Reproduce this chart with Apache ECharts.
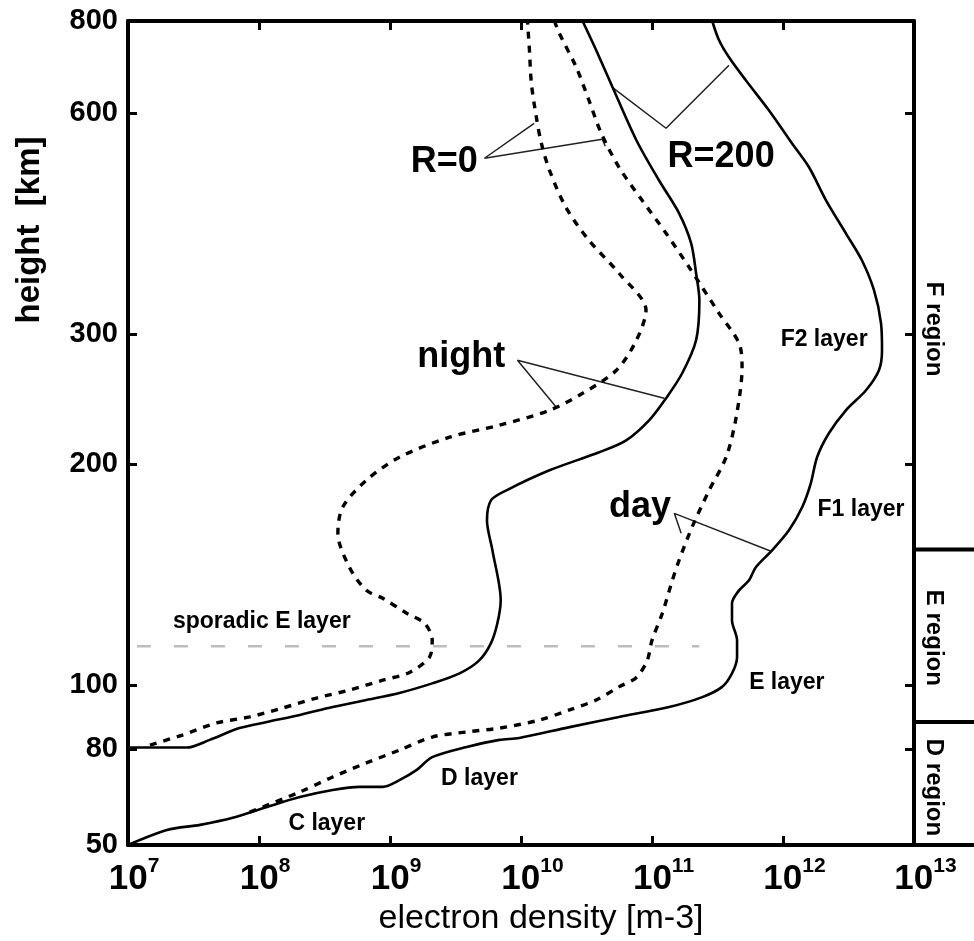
<!DOCTYPE html>
<html>
<head>
<meta charset="utf-8">
<script src="https://cdn.jsdelivr.net/npm/echarts@6/dist/echarts.min.js"></script>
<style>
  html, body { margin: 0; padding: 0; background: #fff; }
  #chart { width: 974px; height: 941px; }
</style>
</head>
<body>
<div id="chart"></div>
<script>
// Ionospheric electron density profiles: [electron density (m^-3), height (km)]
const nightR0 = [
  [1.47e7, 81.3], [2.6e7, 84.4], [4.75e7, 88.2], [8.5e7, 90.1], [1.52e8, 92.9], [2.75e8, 96.0],
  [4.9e8, 98.5], [8.8e8, 101.6], [1.41e9, 104.1], [2.0e9, 109.2], [2.1e9, 115.1], [1.84e9, 121.4],
  [1.34e9, 125.3], [8.8e8, 131.3], [6.6e8, 134.6], [4.9e8, 144.7], [4.0e8, 160.9], [4.35e8, 174.6],
  [6.6e8, 190.0], [1.18e9, 204.2], [2.85e9, 217.4], [6.85e9, 225.7], [1.65e10, 236.5], [2.95e10, 249.4],
  [5.35e10, 268.1], [7.6e10, 294.5], [9.0e10, 323.5], [5.6e10, 363.2], [3.3e10, 402.7], [2.2e10, 446.5],
  [1.65e10, 501.4], [1.43e10, 545.6], [1.31e10, 591.8], [1.2e10, 658.4], [1.16e10, 730.0], [1.12e10, 800.0]
];
const nightR200 = [
  [1.0e7, 80.5], [2.8e7, 80.5], [4.2e7, 82.9], [7.1e7, 86.6], [1.15e8, 88.5], [2.05e8, 90.7],
  [3.65e8, 93.2], [6.6e8, 95.4], [1.18e9, 97.6], [2.1e9, 100.6], [3.4e9, 103.8], [4.8e9, 108.1],
  [5.9e9, 114.1], [6.6e9, 121.4], [7.0e9, 130.5], [6.05e9, 152.6], [5.5e9, 167.5], [5.9e9, 178.4],
  [7.75e9, 184.1], [1.65e10, 196.0], [3.95e10, 207.4], [6.35e10, 215.3], [9.5e10, 229.2], [1.28e11, 245.6],
  [1.7e11, 265.6], [2.17e11, 294.5], [2.3e11, 333.7], [2.17e11, 363.2], [1.99e11, 398.9], [1.61e11, 438.2],
  [1.13e11, 485.9], [7.6e10, 550.8], [5.0e10, 650.0], [3.75e10, 730.0], [2.95e10, 800.0]
];
const dayR0 = [
  [8.5e7, 60.3], [2.05e8, 66.6], [3.65e8, 71.3], [6.6e8, 75.7], [1.18e9, 79.7], [2.1e9, 83.8],
  [3.85e9, 85.4], [6.85e9, 86.6], [1.38e10, 89.1], [2.35e10, 92.3], [3.75e10, 95.4], [5.6e10, 99.5],
  [7.6e10, 102.5], [9.2e10, 108.1], [1.0e11, 115.1], [1.2e11, 125.3], [1.43e11, 138.9], [1.61e11, 147.9],
  [2.02e11, 164.0], [2.73e11, 184.1], [3.68e11, 204.2], [4.39e11, 231.4], [4.87e11, 270.6], [4.62e11, 291.7],
  [3.25e11, 320.4], [1.92e11, 370.1], [1.28e11, 411.6], [8.4e10, 456.4], [5.6e10, 506.1], [4.1e10, 562.9],
  [3.3e10, 624.2], [2.64e10, 692.2], [1.96e10, 769.9], [1.8e10, 800.0]
];
const dayR200 = [
  [1.0e7, 50.0], [1.98e7, 54.7], [3.55e7, 56.3], [6.3e7, 58.5], [1.15e8, 61.9], [2.05e8, 65.0],
  [3.65e8, 67.2], [5.85e8, 68.2], [8.8e8, 68.2], [1.18e9, 70.3], [1.6e9, 73.5], [2.1e9, 77.5],
  [3.85e9, 80.7], [6.85e9, 82.9], [9.7e9, 83.5], [2.35e10, 86.9], [5.6e10, 90.1], [1.35e11, 93.2],
  [2.42e11, 96.3], [3.43e11, 99.5], [4.08e11, 103.8], [4.46e11, 109.2], [4.46e11, 115.1], [4.08e11, 122.6],
  [4.08e11, 129.3], [4.62e11, 134.6], [5.5e11, 138.9], [6.2e11, 144.7], [8.25e11, 152.6], [1.11e12, 162.5],
  [1.4e12, 174.6], [1.63e12, 188.2], [1.82e12, 204.2], [2.24e12, 220.1], [3.02e12, 236.5], [4.3e12, 251.8],
  [5.4e12, 268.1], [5.7e12, 285.4], [5.6e12, 310.6], [4.95e12, 344.4], [4.0e12, 378.3], [3.02e12, 411.6],
  [2.13e12, 456.4], [1.58e12, 506.1], [1.17e12, 545.6], [7.8e11, 605.0], [5.2e11, 664.6], [3.87e11, 714.2],
  [3.25e11, 753.2], [2.88e11, 800.0]
];

// Axis extents and tick values
const DENSITY_RANGE = [1e7, 1e13];
const HEIGHT_RANGE = [50, 800];
const HEIGHT_TICKS = [50, 80, 100, 200, 300, 600, 800];

// Sporadic E reference height and its horizontal extent
const SPORADIC_E_HEIGHT = 113;
const SPORADIC_E_SPAN = [1.17e7, 2.3e11];

// Region boundaries (km) and region names
const REGION_BOUNDARIES = [88.5, 153];
const REGION_NAMES = ['D region', 'E region', 'F region'];
const REGION_LABEL_HEIGHTS = [68, 116, 305];

// Curve annotations: text with its anchor [density, height]
const CURVE_LABELS = [
  { text: 'R=0',   at: [2.6e9, 514] },
  { text: 'R=200', at: [3.37e11, 522] },
  { text: 'night', at: [3.5e9, 279] },
  { text: 'day',   at: [8.1e10, 174.6] }
];
const LAYER_LABELS = [
  { text: 'sporadic E layer', at: [1.05e8, 122.2] },
  { text: 'C layer',  at: [3.29e8, 56.6] },
  { text: 'D layer',  at: [4.82e9, 70.7] },
  { text: 'E layer',  at: [1.07e12, 100.9] },
  { text: 'F1 layer', at: [3.94e12, 173.5] },
  { text: 'F2 layer', at: [2.06e12, 295.4] }
];
// Leader lines joining the annotations to the curves
const LEADERS = [
  [[1.26e10, 580.8], [5.26e9, 520.6], [4.17e10, 552.5], [4.4e10, 540.5]],
  [[4.98e10, 650.0], [1.28e11, 571.8], [3.87e11, 696.5]],
  [[1.86e10, 238.8], [9.4e9, 276.6], [1.24e11, 245.6]],
  [[1.67e11, 160.9], [1.48e11, 171.3], [8.1e11, 152.1]]
];

// Height axis: linear up to 100 km, logarithmic above
const LIN_TOP = 100, LOG_K = 100;
const toT = h => h <= LIN_TOP ? h : LIN_TOP + LOG_K * Math.log(h / LIN_TOP);
const fromT = t => t <= LIN_TOP ? t : LIN_TOP * Math.exp((t - LIN_TOP) / LOG_K);
const toPoint = d => [d[0], toT(d[1])];

const FONT = '"Liberation Sans", Arial, Helvetica, sans-serif';
const chart = echarts.init(document.getElementById('chart'));

function curve(name, data, dashed) {
  return {
    name, type: 'line', data: data.map(toPoint), showSymbol: false, symbol: 'none',
    smooth: 0.3, clip: true, silent: true, z: 4,
    lineStyle: { color: '#000', width: dashed ? 3.4 : 2.6, type: dashed ? [7, 7] : 'solid' }
  };
}
function leader(pts) {
  return {
    type: 'line', data: pts.map(toPoint), showSymbol: false, symbol: 'none', smooth: false,
    silent: true, z: 3, lineStyle: { color: '#222', width: 1.5 }
  };
}
function textSeries(list, size) {
  return {
    type: 'scatter', symbolSize: 0, silent: true, z: 6,
    itemStyle: { opacity: 1 },
    data: list.map(l => ({ name: l.text, value: toPoint(l.at) })),
    label: {
      show: true, position: 'inside', formatter: '{b}', color: '#000', opacity: 1,
      textBorderWidth: 0, textBorderColor: 'transparent',
      fontFamily: FONT, fontWeight: 'bold', fontSize: size
    }
  };
}

const axisLine = { show: true, onZero: false, lineStyle: { color: '#000', width: 4 } };
const innerTick = { show: true, inside: true, length: 9, lineStyle: { color: '#000', width: 3 } };

const xBase = {
  type: 'log', logBase: 10, min: DENSITY_RANGE[0], max: DENSITY_RANGE[1], splitNumber: 6,
  axisLine, axisTick: innerTick, splitLine: { show: false }, minorTick: { show: false }
};
const yBase = {
  type: 'value', min: toT(HEIGHT_RANGE[0]), max: toT(HEIGHT_RANGE[1]),
  axisLine, splitLine: { show: false },
  axisTick: Object.assign({}, innerTick, { customValues: HEIGHT_TICKS.map(toT) })
};

chart.setOption({
  animation: false,
  backgroundColor: '#fff',
  grid: { left: 128, right: 60, top: 21, bottom: 96 },
  xAxis: [
    Object.assign({}, xBase, {
      position: 'bottom',
      name: 'electron density [m-3]', nameLocation: 'middle', nameGap: 56,
      nameTextStyle: { fontFamily: FONT, fontSize: 34, color: '#000', padding: [0, 0, 0, 40] },
      axisLabel: {
        interval: 0, margin: 11, color: '#000',
        formatter: v => {
          const e = Math.round(Math.log10(v));
          return '{' + (String(e).length > 1 ? 'p2' : 'p1') + '| }{b|10}{s|' + e + '}';
        },
        rich: {
          b: { fontFamily: FONT, fontSize: 35, fontWeight: 'bold', color: '#000', lineHeight: 41, verticalAlign: 'bottom' },
          s: { fontFamily: FONT, fontSize: 21, fontWeight: 'bold', color: '#000', lineHeight: 21, verticalAlign: 'top' },
          p1: { width: 12, lineHeight: 21, verticalAlign: 'top' },
          p2: { width: 23, lineHeight: 21, verticalAlign: 'top' }
        }
      }
    }),
    Object.assign({}, xBase, { position: 'top', axisLabel: { show: false } })
  ],
  yAxis: [
    Object.assign({}, yBase, {
      position: 'left',
      axisLabel: {
        customValues: HEIGHT_TICKS.map(toT), margin: 10, color: '#000',
        fontFamily: FONT, fontSize: 29, fontWeight: 'bold',
        formatter: v => String(Math.round(fromT(v)))
      }
    }),
    Object.assign({}, yBase, { position: 'right', axisLabel: { show: false } })
  ],
  series: [
    {
      type: 'line', silent: true, z: 2, showSymbol: false, symbol: 'none',
      data: SPORADIC_E_SPAN.map(x => [x, toT(SPORADIC_E_HEIGHT)]),
      lineStyle: { color: '#bdbdbd', width: 2.5, type: [14, 23] }
    },
    curve('night R=0', nightR0, true),
    curve('night R=200', nightR200, false),
    curve('day R=0', dayR0, true),
    curve('day R=200', dayR200, false),
    ...LEADERS.map(leader),
    textSeries(CURVE_LABELS, 36),
    textSeries(LAYER_LABELS, 23)
  ]
});

// Region panel to the right of the plot, placed through the height axis
const yPix = h => chart.convertToPixel({ yAxisIndex: 0 }, toT(h));
const xRight = chart.convertToPixel({ xAxisIndex: 0 }, DENSITY_RANGE[1]);
const panelRight = 974;
const graphics = [{
  type: 'text', x: 30, y: 230, rotation: Math.PI / 2, silent: true,
  style: { text: 'height  [km]', fill: '#000', font: 'bold 33px ' + FONT, align: 'center', verticalAlign: 'middle' }
}];
REGION_BOUNDARIES.concat([HEIGHT_RANGE[0]]).forEach(h => {
  const y = yPix(h);
  graphics.push({
    type: 'line', silent: true,
    shape: { x1: xRight, y1: y, x2: panelRight, y2: y },
    style: { stroke: '#000', lineWidth: 4 }
  });
});
REGION_NAMES.forEach((name, i) => {
  graphics.push({
    type: 'text', x: xRight + 20, y: yPix(REGION_LABEL_HEIGHTS[i]), rotation: -Math.PI / 2, silent: true,
    style: { text: name, fill: '#000', font: 'bold 24px ' + FONT, align: 'center', verticalAlign: 'middle' }
  });
});
chart.setOption({ graphic: graphics });
</script>
</body>
</html>
